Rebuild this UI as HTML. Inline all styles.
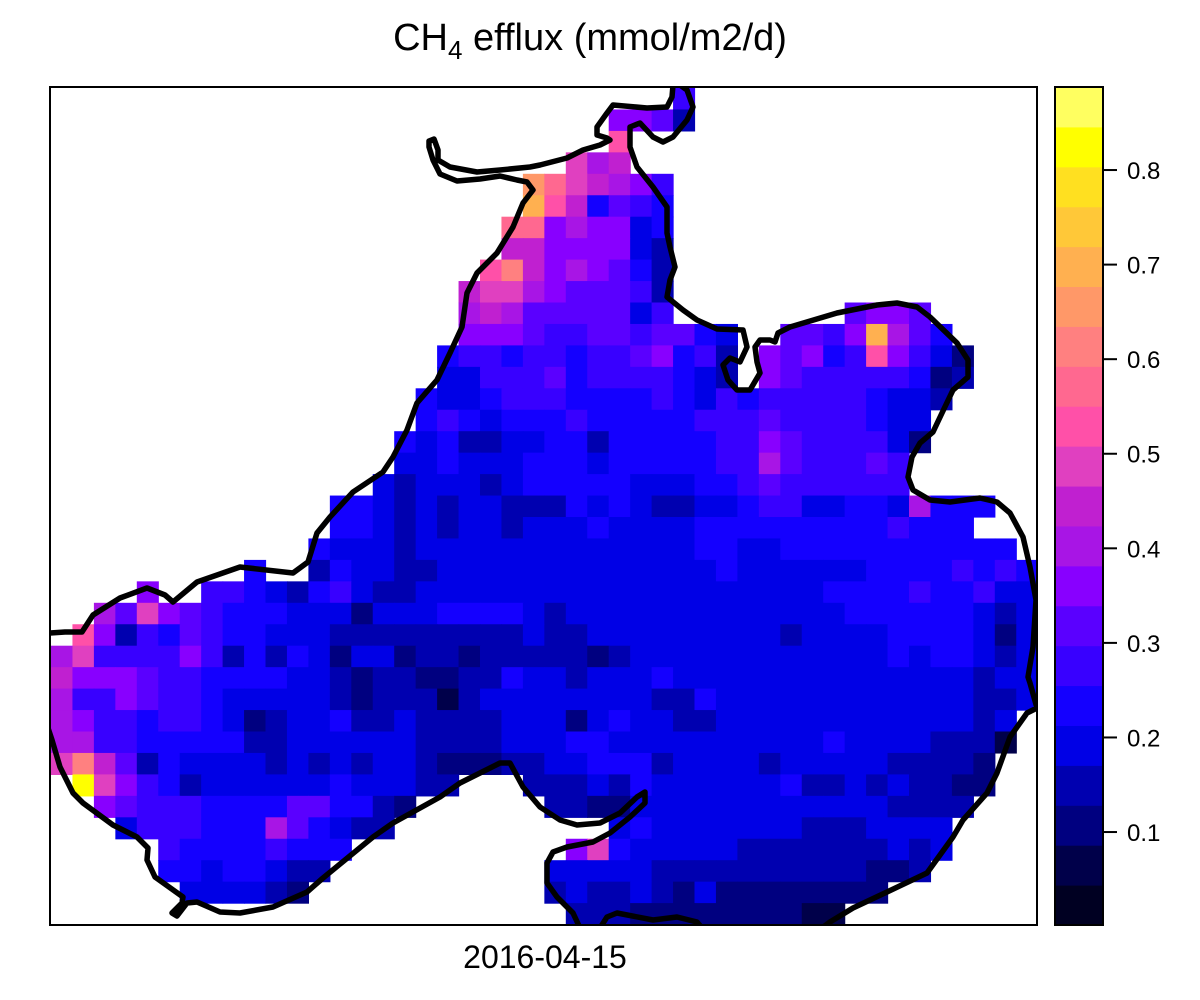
<!DOCTYPE html>
<html><head><meta charset="utf-8">
<style>
html,body{margin:0;padding:0;background:#fff;}
svg{display:block;font-family:"Liberation Sans",Arial,sans-serif;}
</style></head>
<body>
<svg id="chart" width="1200" height="1000" viewBox="0 0 1200 1000" xmlns="http://www.w3.org/2000/svg">
  <rect width="1200" height="1000" fill="#fff"/>
  <text x="590" y="50" text-anchor="middle" font-size="38">CH<tspan font-size="26" dy="9">4</tspan><tspan dy="-9"> efflux (mmol/m2/d)</tspan></text>
  <defs><clipPath id="panelClip"><rect x="50" y="87" width="987" height="838"/></clipPath></defs>
  <g id="cells" clip-path="url(#panelClip)"></g>
  <path id="coast" clip-path="url(#panelClip)" fill="none" stroke="#000" stroke-width="5.5" stroke-linejoin="round" stroke-linecap="round"
    d="M50,633 L65,632 L82,632 L93,615 L120,598 L147,588 L165,595 L173,602 L197,582 L240,567 L293,573 L308,562 L317,533 L330,517 L353,492 L383,472 L393,457 L407,430 L417,403 L437,380 L450,353 L462,327 L467,293 L477,273 L497,253 L513,227 L523,203 L533,190 L527,182 L517,180 L500,176 L480,179 L457,181 L440,174 L433,160 L429,147 L429,141 L434,139 L438,150 L438,160 L450,167 L477,172 L500,170 L530,167 L540,165 L567,158 L583,150 L600,145 L610,140 L607,138 L597,135 L597,127 L607,113 L613,105 L647,108 L667,107 L672,97 L673,85
    M680,85 L687,90 L693,107 L687,120 L673,137 L663,142 L653,137 L640,123 L630,127 L630,147 L637,167 L653,187 L667,207 L667,233 L670,247 L675,267 L670,280 L667,297 L683,310 L697,320 L717,329 L743,330 L747,347 L740,362 L730,358 L723,365 L728,380 L737,390 L750,390 L760,373 L757,362 L755,347 L760,340 L770,340 L775,342 L778,333 L790,327 L837,313 L877,305 L897,303 L917,307 L930,317 L957,343 L968,360 L968,377 L953,390 L942,413 L933,432 L920,443 L912,457 L908,477 L913,490 L930,500 L950,502 L980,498 L997,502 L1010,513 L1023,537 L1030,567 L1036,600 L1033,647 L1028,677 L1030,683 L1037,708 L1027,713 L1010,737 L997,773 L987,793 L963,820 L953,837 L927,873 L887,892 L853,908 L830,922 L822,928
    M580,928 L573,913 L557,897 L547,883 L547,863 L553,852 L567,847 L593,842 L610,833 L630,817 L645,803 L645,792 L637,797 L620,813 L600,823 L577,825 L560,820 L540,807 L523,787 L510,763 L500,763 L460,783 L440,797 L393,823 L373,837 L323,878 L307,892 L273,907 L240,913 L220,912 L197,902 L187,903 L177,916 L172,913 L182,903 L183,897 L155,877 L147,860 L148,848 L137,837 L113,825 L83,803 L73,793 L60,767 L52,740 L48,728
    M600,928 L607,917 L617,913 L653,920 L677,917 L697,922 L702,928"/>
  <rect x="50" y="87" width="987" height="838" fill="none" stroke="#000" stroke-width="2"/>
  <text x="545" y="968" text-anchor="middle" font-size="32">2016-04-15</text>
  <g id="colorbar"></g>
</svg>
<script>
// colour scale: break values and band colours
const vmin = 0.0017;
const vmax = 0.8878;
const palette = ["#000022","#00004a","#000080","#0000b0","#0000e6","#1400ff","#3800ff","#5a00ff","#8800ff","#a815e5","#c020d0","#e040c0","#ff50a8","#ff6890","#ff8080","#ff9868","#ffb050","#ffc838","#ffe020","#ffff00","#ffff60"];
const tickValues = [0.1,0.2,0.3,0.4,0.5,0.6,0.7,0.8];
const tickLabels = ["0.1","0.2","0.3","0.4","0.5","0.6","0.7","0.8"];
// raster grid data: each char is a value class (a = lowest), '.' = no data
const gridRows = [
".............................g................",
"..........................iihd................",
"..........................m...................",
"........................ljk...................",
"......................pnlkjig.................",
"......................qmkfhgf.................",
".....................nnijiief.................",
".....................kkiiiied.................",
"....................mokijihfd.................",
"...................klljihhhgd.................",
"...................jkjhhhhheg........hiih.....",
"...................iiihgghhghhfe..hhgiqjhf....",
"..................fggfggfgghifgd.ihifgmigec...",
"..................eeggghfggggfed.ihgggggfcd...",
".................feefgggffffgfegfgggggfeed....",
".................fgfefffgfffffggghggggfee.....",
"................fefddeeffdfffffggihggggec.....",
"................eefeeefffefffffggjhggghg......",
"...............edeeedefffffeeeffghgggggg......",
".............ffededeedddfefeddeefggeeffejfff...".slice(0,46),
".............ffededeedeeefeeeefffffffffgfff..",
"............feeedeeeeeeeeeeeeeffeefffffffffff.",
".........f..dfeedde" + "eeeeeeeeeee" + "ef" + "eeeeee" + "ffff" + "gfgf",
"....i..ggfedfgeddeeeee" + "eeeeeeeeeeeeee" + "ffff" + "gffgee",
"..jhlihgfffeeeceeeffffed" + "eeeeeeeeeeeee" + "ffffff" + "ede",
".midgfhgffeeedddddddddeddeeeeeeeeedeeeeffffece",
"jlggggigdfdfeceecddcdddddcdeeeeeeeeeeeefeffede",
"kiiihggffffeedcddccddfeedeeefeeeeeeeeeeeeeedee",
"jggihggfeeeeedcdddbdeeeeeeeeddfeeeeeeeeeeeedde",
"jiggfggfecdeefddeddddeeecefeeddeeeeeeeeeeeede.",
"jjggfffffddeeeeeeddddeeeffeeeeeeeeeefeeeedddb.",
"lokhdfeeeedededeedcccddeefffdeeeedeeeeeddddc..",
".tligfdeeeeeefeeedd...dddedfeeeeeefddededdcc..",
"..ihgggffffhhffdc......ddcceeeeeeeeeeeedddd...",
"...egggfffjhfedd..........efeeeeeeedddeeee....",
".....gffffgfff..........ilfeeeeedddddddede....",
".....ffeffedd..........eeeeeddddddddddccd.....",
"......eeeedc...........deddedcecccccccc.......",
"........................dddccccccccbb........."
];
</script>
<script>
const NS = "http://www.w3.org/2000/svg";
const x0 = 51, y0 = 88, cw = 21.45, ch = 21.45;
const bin = (vmax - vmin) / palette.length;
function colorFor(v){
  let k = Math.floor((v - vmin) / bin);
  if (k < 0) k = 0; if (k > palette.length - 1) k = palette.length - 1;
  return palette[k];
}
function valueOf(c){ return vmin + (c.charCodeAt(0) - 97 + 0.5) * bin; }
function colX(c){ return x0 + c * cw; }
function rowY(r){ return y0 + r * ch; }
const cellsG = document.getElementById('cells');
gridRows.forEach((row, r) => {
  for (let c = 0; c < row.length && c < 46; c++) {
    const ch0 = row[c];
    if (ch0 === '.' || ch0 === undefined) continue;
    const v = valueOf(ch0);
    const rect = document.createElementNS(NS, 'rect');
    rect.setAttribute('x', colX(c).toFixed(2));
    rect.setAttribute('y', rowY(r).toFixed(2));
    rect.setAttribute('width', (cw + 0.6).toFixed(2));
    rect.setAttribute('height', (ch + 0.6).toFixed(2));
    rect.setAttribute('fill', colorFor(v));
    
    
    cellsG.appendChild(rect);
  }
});
// colorbar
const cbX = 1055, cbW = 48, cbTop = 87, cbBot = 925;
function cbY(v){ return cbBot - (v - vmin) / (vmax - vmin) * (cbBot - cbTop); }
const cbG = document.getElementById('colorbar');
palette.forEach((col, i) => {
  const lo = vmin + i * bin, hi = lo + bin;
  const rect = document.createElementNS(NS, 'rect');
  rect.setAttribute('x', cbX);
  rect.setAttribute('y', cbY(hi));
  rect.setAttribute('width', cbW);
  rect.setAttribute('height', cbY(lo) - cbY(hi) + 0.5);
  rect.setAttribute('fill', col);
  
  
  cbG.appendChild(rect);
});
const frame = document.createElementNS(NS, 'rect');
frame.setAttribute('x', cbX); frame.setAttribute('y', cbTop);
frame.setAttribute('width', cbW); frame.setAttribute('height', cbBot - cbTop);
frame.setAttribute('fill', 'none'); frame.setAttribute('stroke', '#000'); frame.setAttribute('stroke-width', '2');


cbG.appendChild(frame);
tickValues.forEach((v, i) => {
  const y = cbY(v);
  const ln = document.createElementNS(NS, 'line');
  ln.setAttribute('x1', cbX + cbW); ln.setAttribute('x2', cbX + cbW + 14);
  ln.setAttribute('y1', y); ln.setAttribute('y2', y);
  ln.setAttribute('stroke', '#000'); ln.setAttribute('stroke-width', '2');
  
  
  cbG.appendChild(ln);
  const t = document.createElementNS(NS, 'text');
  t.setAttribute('x', 1127); t.setAttribute('y', y + 9);
  t.setAttribute('font-size', '24');
  t.textContent = tickLabels[i];
  
  
  cbG.appendChild(t);
});
</script>
</body></html>
